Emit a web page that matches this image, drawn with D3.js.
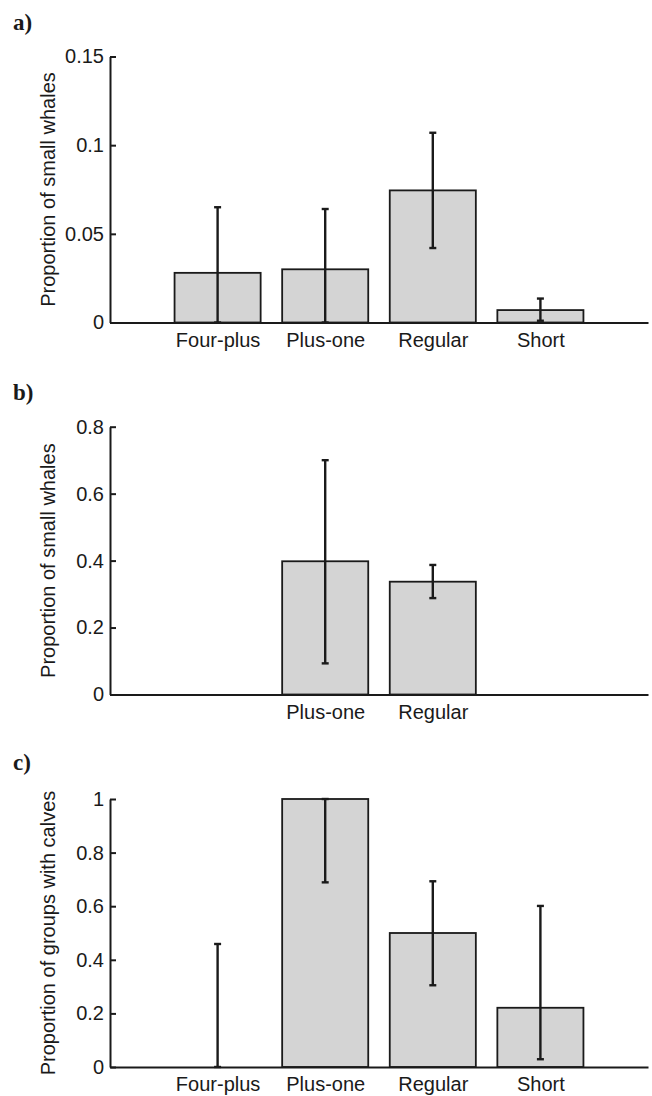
<!DOCTYPE html>
<html>
<head>
<meta charset="utf-8">
<script src="https://cdn.jsdelivr.net/npm/d3@7"></script>
<style>
  body { margin: 0; background: #fff; }
  svg { display: block; }
  text { font-family: "Liberation Sans", Arial, sans-serif; fill: #1a1a1a; }
</style>
</head>
<body>
<div id="chart"></div>
<script>
// categories shared by all three panels
const categories = ["Four-plus", "Plus-one", "Regular", "Short"];

// a) proportion of small whales
const propA = [0.028, 0.030, 0.0745, 0.007];
const lowA  = [0, 0, 0.042, 0.001];
const highA = [0.065, 0.064, 0.107, 0.0135];
const ticksA = [0, 0.05, 0.1, 0.15];

// b) proportion of small whales (only two group types)
const propB = [null, 0.398, 0.337, null];
const lowB  = [null, 0.093, 0.288, null];
const highB = [null, 0.700, 0.387, null];
const ticksB = [0, 0.2, 0.4, 0.6, 0.8];

// c) proportion of groups with calves
const propC = [0, 1.0, 0.50, 0.221];
const lowC  = [0, 0.689, 0.305, 0.029];
const highC = [0.459, 1.0, 0.693, 0.601];
const ticksC = [0, 0.2, 0.4, 0.6, 0.8, 1];

const width = 652, height = 1096;
const ink = '#1a1a1a';

const svg = d3.select('#chart').append('svg')
  .attr('width', width)
  .attr('height', height);

// x positions: bars sit at 1..4 on a 0..5 axis (MATLAB style)
const x = d3.scaleLinear().domain([0, 5]).range([110, 648]);
const barW = (x(1) - x(0)) * 0.8;

const panels = [
  { letter: 'a)', letterY: 30, top: 56.5, bottom: 322.5, max: 0.15, ticks: ticksA,
    ylabel: 'Proportion of small whales', prop: propA, low: lowA, high: highA },
  { letter: 'b)', letterY: 400, top: 426.7, bottom: 694.5, max: 0.8, ticks: ticksB,
    ylabel: 'Proportion of small whales', prop: propB, low: lowB, high: highB },
  { letter: 'c)', letterY: 770, top: 799, bottom: 1067, max: 1, ticks: ticksC,
    ylabel: 'Proportion of groups with calves', prop: propC, low: lowC, high: highC }
];

panels.forEach(p => {
  const g = svg.append('g');
  const y = d3.scaleLinear().domain([0, p.max]).range([p.bottom, p.top]);

  // panel letter
  g.append('text')
    .attr('x', 13).attr('y', p.letterY)
    .style('font-family', '"Liberation Serif", "Times New Roman", serif')
    .style('font-weight', 'bold')
    .style('font-size', '23px')
    .text(p.letter);

  // bars
  const idx = d3.range(categories.length).filter(i => p.prop[i] != null);
  g.selectAll('rect.bar')
    .data(idx.filter(i => p.prop[i] > 0))
    .join('rect')
    .attr('class', 'bar')
    .attr('x', i => x(i + 1) - barW / 2)
    .attr('width', barW)
    .attr('y', i => y(p.prop[i]))
    .attr('height', i => y(0) - y(p.prop[i]))
    .attr('fill', '#d4d4d4')
    .attr('stroke', ink)
    .attr('stroke-width', 1.8);

  // error bars
  const eb = g.selectAll('g.err')
    .data(idx)
    .join('g')
    .attr('class', 'err')
    .attr('stroke', ink)
    .attr('stroke-width', 2.4);
  eb.append('line')
    .attr('x1', i => x(i + 1)).attr('x2', i => x(i + 1))
    .attr('y1', i => y(p.low[i])).attr('y2', i => y(p.high[i]));
  eb.append('line')
    .attr('x1', i => x(i + 1) - 3.5).attr('x2', i => x(i + 1) + 3.5)
    .attr('y1', i => y(p.high[i])).attr('y2', i => y(p.high[i]));
  eb.append('line')
    .attr('x1', i => x(i + 1) - 3.5).attr('x2', i => x(i + 1) + 3.5)
    .attr('y1', i => y(p.low[i])).attr('y2', i => y(p.low[i]));

  // y axis, ticks pointing inward
  const yAxis = g.append('g')
    .attr('transform', `translate(${x(0)},0)`)
    .call(d3.axisLeft(y)
      .tickValues(p.ticks)
      .tickFormat(d => String(d))
      .tickSizeInner(-6)
      .tickSizeOuter(0)
      .tickPadding(6));
  yAxis.select('.domain').attr('stroke', ink).attr('stroke-width', 2);
  yAxis.selectAll('.tick line').attr('stroke', ink).attr('stroke-width', 2);
  yAxis.selectAll('.tick text')
    .style('font-size', '20px')
    .attr('fill', ink)
    .style('font-family', '"Liberation Sans", Arial, sans-serif');

  // x axis with category labels
  const xAxis = g.append('g')
    .attr('transform', `translate(0,${p.bottom})`)
    .call(d3.axisBottom(x)
      .tickValues(idx.map(i => i + 1))
      .tickFormat(v => categories[v - 1])
      .tickSize(0)
      .tickPadding(10));
  xAxis.select('.domain').attr('stroke', ink).attr('stroke-width', 2);
  xAxis.selectAll('.tick text')
    .style('font-size', '20px')
    .attr('fill', ink)
    .style('font-family', '"Liberation Sans", Arial, sans-serif');

  // y label
  g.append('text')
    .attr('transform', `translate(55,${(p.top + p.bottom) / 2}) rotate(-90)`)
    .attr('text-anchor', 'middle')
    .style('font-size', '20px')
    .text(p.ylabel);
});
</script>
</body>
</html>
